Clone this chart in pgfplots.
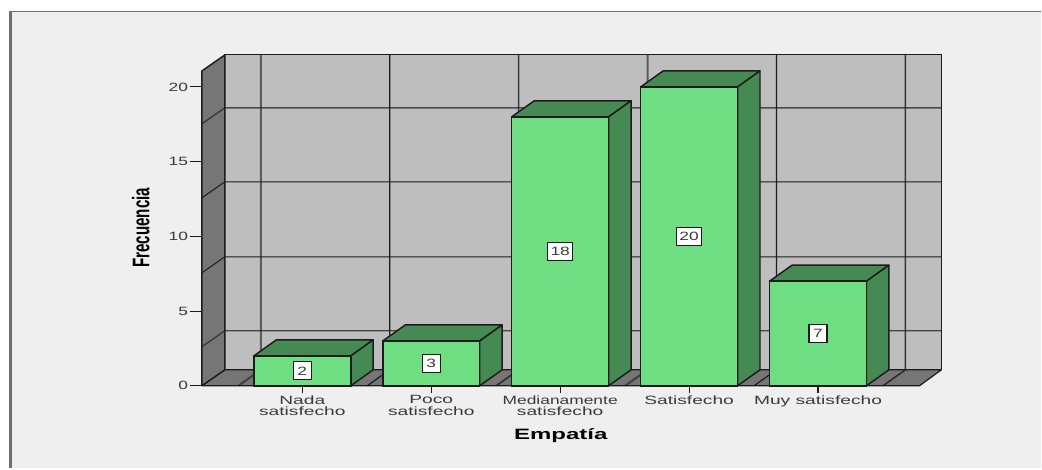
\documentclass[border=0pt]{standalone}
\usepackage{pgfplots}
\pgfplotsset{compat=1.18}
\usepackage{fontspec}
\setmainfont{Liberation Sans}
\newfontfamily\widefont[FakeStretch=1.45]{Liberation Sans}
\newfontfamily\catfont[FakeStretch=1.6]{Liberation Sans}
\newfontfamily\titlefont[FakeStretch=1.6]{Liberation Sans Bold}
\newfontfamily\narrowfont[FakeStretch=0.63]{Liberation Sans Bold}
\definecolor{panel}{HTML}{EFEFEF}
\definecolor{wall}{HTML}{BEBEBE}
\definecolor{side}{HTML}{767676}
\definecolor{barfront}{HTML}{6FDD82}
\definecolor{bardark}{HTML}{458A52}
\definecolor{ink}{HTML}{1C1C1C}
\definecolor{labelink}{HTML}{3A3A3A}
\definecolor{frameline}{HTML}{6E6E6E}
\begin{document}
\begin{tikzpicture}[x=0.75pt,y=0.75pt]
% page and panel, in pixel units from the lower left corner
\fill[white] (0,0) rectangle (1042,468);
\fill[panel] (10,0) rectangle (1042,456);
\draw[frameline,line width=0.9pt] (1042,456.2) -- (10.5,456.2);
\draw[frameline,line width=2pt] (10.5,0) -- (10.5,456.5);
\begin{axis}[
  at={(151.5pt,61.5pt)}, anchor=south west,
  x=96.75pt, y=11.2125pt,
  xmin=-0.779, xmax=4.957, ymin=0, ymax=22.14,
  clip=false,
  axis line style={draw=none},
  tick align=outside,
  xtick pos=bottom, ytick pos=left,
  xtick={0,1,2,3,4},
  ytick={0,5,10,15,20},
  xticklabels={{Nada\\satisfecho},{Poco\\satisfecho},{{\widefont Medianamente}\\satisfecho},{Satisfecho},{Muy satisfecho}},
  xtick style={/pgfplots/major tick length=5.25pt,ink,line width=0.8pt},
  ytick style={/pgfplots/major tick length=9pt,ink,line width=0.8pt},
  xticklabel style={font=\fontsize{9}{8.6}\catfont\selectfont,align=center,text=labelink,anchor=north,yshift=-3pt,inner sep=0pt},
  yticklabel style={font=\fontsize{9}{9}\widefont\selectfont,text=labelink,inner sep=0pt,xshift=-6pt},
  /pgf/number format/assume math mode=true,
  xlabel={Empatía},
  ylabel={Frecuencia},
  xlabel style={font=\fontsize{11.25}{12}\titlefont\selectfont,at={(axis cs:2.004,-3.61)},anchor=base,inner sep=0pt},
  ylabel style={font=\fontsize{18}{18}\narrowfont\selectfont,at={(axis cs:-1.186,10.57)},anchor=base,inner sep=0pt},
]
% rear wall, floor and left wall
\addplot[fill=wall,draw=ink,line width=0.8pt,line join=round] coordinates {(-0.601,1.07)(4.957,1.07)(4.957,22.14)(-0.601,22.14)(-0.601,1.07)};
\addplot[fill=side,draw=ink,line width=0.9pt,line join=round] coordinates {(-0.779,0)(-0.601,1.07)(4.957,1.07)(4.787,0)(-0.779,0)};
\addplot[fill=side,draw=ink,line width=1.1pt,line join=round] coordinates {(-0.779,0)(-0.601,1.07)(-0.601,22.14)(-0.779,21.07)(-0.779,0)};
% horizontal grid lines on the rear wall, continued across the left wall
\addplot[ink,line width=0.85pt,opacity=0.75] coordinates {(-0.779,2.61)(-0.601,3.68)(4.957,3.68)};
\addplot[ink,line width=0.75pt] coordinates {(-0.779,7.56)(-0.601,8.63)(4.957,8.63)};
\addplot[ink,line width=0.75pt] coordinates {(-0.779,12.58)(-0.601,13.65)(4.957,13.65)};
\addplot[ink,line width=1pt,opacity=0.7] coordinates {(-0.779,17.53)(-0.601,18.6)(4.957,18.6)};
% vertical grid lines on the rear wall, continued across the floor
\addplot[ink,line width=1.5pt,opacity=0.6] coordinates {(-0.322,22.14)(-0.322,1.07)(-0.496,0)};
\addplot[ink,line width=0.9pt] coordinates {(0.678,22.14)(0.678,1.07)(0.504,0)};
\addplot[ink,line width=1.2pt,opacity=0.8] coordinates {(1.678,22.14)(1.678,1.07)(1.504,0)};
\addplot[ink,line width=1.5pt,opacity=0.6] coordinates {(2.678,22.14)(2.678,1.07)(2.504,0)};
\addplot[ink,line width=0.9pt] coordinates {(3.678,22.14)(3.678,1.07)(3.504,0)};
\addplot[ink,line width=1.1pt,opacity=0.85] coordinates {(4.678,22.14)(4.678,1.07)(4.504,0)};
% top and side faces of the bars
\pgfplotsset{face/.style={fill=bardark,draw=ink,line width=1.1pt,line join=round}}
\addplot[face] coordinates {(-0.376,2)(-0.202,3.07)(0.55,3.07)(0.376,2)(-0.376,2)};
\addplot[face] coordinates {(0.376,0)(0.55,1.07)(0.55,3.07)(0.376,2)(0.376,0)};
\addplot[face] coordinates {(0.624,3)(0.798,4.07)(1.55,4.07)(1.376,3)(0.624,3)};
\addplot[face] coordinates {(1.376,0)(1.55,1.07)(1.55,4.07)(1.376,3)(1.376,0)};
\addplot[face] coordinates {(1.624,18)(1.798,19.07)(2.55,19.07)(2.376,18)(1.624,18)};
\addplot[face] coordinates {(2.376,0)(2.55,1.07)(2.55,19.07)(2.376,18)(2.376,0)};
\addplot[face] coordinates {(2.624,20)(2.798,21.07)(3.55,21.07)(3.376,20)(2.624,20)};
\addplot[face] coordinates {(3.376,0)(3.55,1.07)(3.55,21.07)(3.376,20)(3.376,0)};
\addplot[face] coordinates {(3.624,7)(3.798,8.07)(4.55,8.07)(4.376,7)(3.624,7)};
\addplot[face] coordinates {(4.376,0)(4.55,1.07)(4.55,8.07)(4.376,7)(4.376,0)};
% front faces of the bars
\addplot[ybar,bar shift=0pt,bar width=72.75pt,fill=barfront,draw=ink,line width=1.1pt] coordinates {(0,2)(1,3)(2,18)(3,20)(4,7)};
% value labels at half the height of each bar
\addplot[draw=none,mark=none,
  nodes near coords,
  point meta=explicit symbolic,
  every node near coord/.append style={anchor=center,fill=white,draw=ink,line width=0.8pt,
    font=\fontsize{9}{9}\widefont\selectfont,text=labelink,
    minimum width=13.5pt,minimum height=13.5pt,inner sep=2pt}]
  coordinates {(0,1)[2] (1,1.5)[3] (2,9)[18] (3,10)[20] (4,3.5)[7]};
\end{axis}
\end{tikzpicture}
\end{document}
